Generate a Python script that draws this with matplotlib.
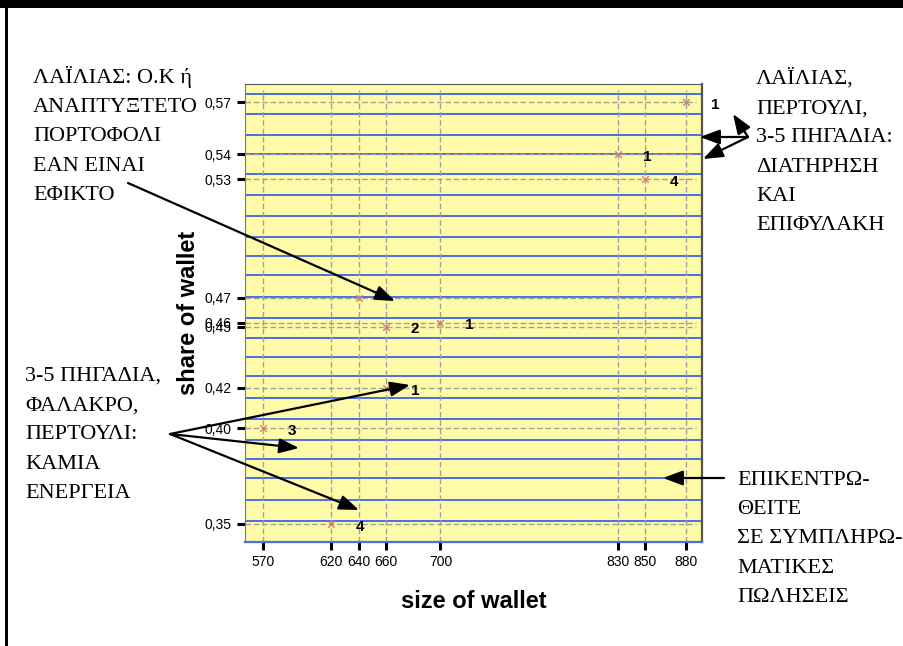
import matplotlib
matplotlib.use("Agg")
import matplotlib.pyplot as plt
from matplotlib.patches import FancyArrowPatch, Rectangle

# data
size_of_wallet = [570, 620, 640, 660, 660, 700, 830, 850, 880]
share_of_wallet = [0.40, 0.35, 0.468, 0.453, 0.421, 0.455, 0.543, 0.53, 0.57]
point_counts = ['3', '4', '', '2', '1', '1', '1', '4', '1']

x_ticks = [570, 620, 640, 660, 700, 830, 850, 880]
y_ticks = [0.35, 0.40, 0.421, 0.453, 0.455, 0.468, 0.53, 0.543, 0.57]
y_tick_labels = ['0,35', '0,40', '0,42', '0,45', '0,46', '0,47', '0,53', '0,54', '0,57']

# blue "lined paper" rules in the plot background
ruled_lines = [0.5744, 0.5638, 0.5528, 0.5431, 0.5328, 0.5215, 0.5107, 0.4999,
               0.4900, 0.4800, 0.4682, 0.4577, 0.4468, 0.4369, 0.4270, 0.4155,
               0.4047, 0.3937, 0.3838, 0.3739, 0.3624, 0.3516]

note_top_left = ['ΛΑΪΛΙΑΣ: Ο.Κ ή', 'ΑΝΑΠΤΥΞΤΕΤΟ', 'ΠΟΡΤΟΦΟΛΙ', 'ΕΑΝ ΕΙΝΑΙ', 'ΕΦΙΚΤΟ']
note_top_right = ['ΛΑΪΛΙΑΣ,', 'ΠΕΡΤΟΥΛΙ,', '3-5 ΠΗΓΑΔΙΑ:', 'ΔΙΑΤΗΡΗΣΗ', 'ΚΑΙ', 'ΕΠΙΦΥΛΑΚΗ']
note_bottom_left = ['3-5 ΠΗΓΑΔΙΑ,', 'ΦΑΛΑΚΡΟ,', 'ΠΕΡΤΟΥΛΙ:', 'ΚΑΜΙΑ', 'ΕΝΕΡΓΕΙΑ']
note_bottom_right = ['ΕΠΙΚΕΝΤΡΩ-', 'ΘΕΙΤΕ', 'ΣΕ ΣΥΜΠΛΗΡΩ-', 'ΜΑΤΙΚΕΣ', 'ΠΩΛΗΣΕΙΣ']

W, H = 904, 646


def fx(px):
    return px / W


def fy(py):
    return 1 - py / H


def note(lines, left, first_base, step=29.2):
    for i, line in enumerate(lines):
        fig.text(fx(left), fy(first_base + i * step), line, fontsize=16,
                 family='Liberation Serif', va='baseline', ha='left')


def arrow(start, end):
    fig.add_artist(FancyArrowPatch((fx(start[0]), fy(start[1])), (fx(end[0]), fy(end[1])),
                                   transform=fig.transFigure, shrinkA=0, shrinkB=0,
                                   arrowstyle='-|>,head_length=0.8,head_width=0.3',
                                   mutation_scale=15, lw=1.6, color='black'))


plt.rcParams['font.family'] = ['Liberation Sans', 'DejaVu Sans']
fig = plt.figure(figsize=(9.04, 6.46), dpi=100)
ax = fig.add_axes([fx(245), fy(542), (702 - 245) / W, (542 - 84) / H])
ax.set_facecolor('#fffba8')

for r in ruled_lines:
    ax.axhline(r, color='#4a6fe3', lw=1.4, zorder=1)
for xv in x_ticks:
    ax.axvline(xv, ymax=1 - 6 / 458, color='#a0a0a0', lw=1, ls=(0, (4, 2)), zorder=2)
for yv in y_ticks:
    ax.axhline(yv, xmax=(696 - 245) / 457, color='#a0a0a0', lw=1, ls=(0, (4, 2)), zorder=2)

ax.scatter(size_of_wallet, share_of_wallet, marker='x', s=22, color='#d0806c', lw=1, zorder=3)
for xv, yv, c in zip(size_of_wallet, share_of_wallet, point_counts):
    ax.annotate(c, (xv, yv), xytext=(21, -2), textcoords='offset points',
                ha='center', va='center', fontsize=11, fontweight='bold')

ax.set_xlim(556.8, 891.7)
ax.set_ylim(0.3405, 0.5796)
ax.set_xticks(x_ticks)
ax.set_xticklabels([str(v) for v in x_ticks], fontsize=10)
ax.set_yticks(y_ticks)
ax.set_yticklabels(y_tick_labels, fontsize=10)
ax.tick_params(direction='out', length=6, width=2.2, color='black', pad=3.5)

ax.spines['left'].set_color('#777777')
ax.spines['top'].set_color('#555555')
ax.spines['right'].set_color('#555555')
ax.spines['right'].set_linewidth(1.6)
ax.spines['bottom'].set_color('#4a6fe3')
ax.spines['bottom'].set_linewidth(1.6)

fig.text(fx(474), fy(602), 'size of wallet', fontsize=17, fontweight='bold',
         ha='center', va='center')
fig.text(fx(189), fy(313), 'share of wallet', fontsize=17, fontweight='bold',
         ha='center', va='center', rotation=90)

# slide frame
fig.add_artist(Rectangle((0, fy(8)), 1, 8 / H, transform=fig.transFigure,
                         color='black', lw=0))
fig.add_artist(Rectangle((fx(5), 0), 3 / W, 1, transform=fig.transFigure,
                         color='black', lw=0))

note(note_top_left, 33, 83)
note(note_top_right, 756, 84)
note(note_bottom_left, 25, 381)
note(note_bottom_right, 737, 485)

arrow((128, 183), (395, 301))
arrow((748, 137), (733, 114))
arrow((748, 137), (700, 137))
arrow((748, 137), (703, 159))
arrow((170, 434), (410, 385))
arrow((170, 434), (299, 448))
arrow((170, 434), (359, 510))
arrow((724, 478), (663, 478))

fig.savefig('out.png', dpi=100)
